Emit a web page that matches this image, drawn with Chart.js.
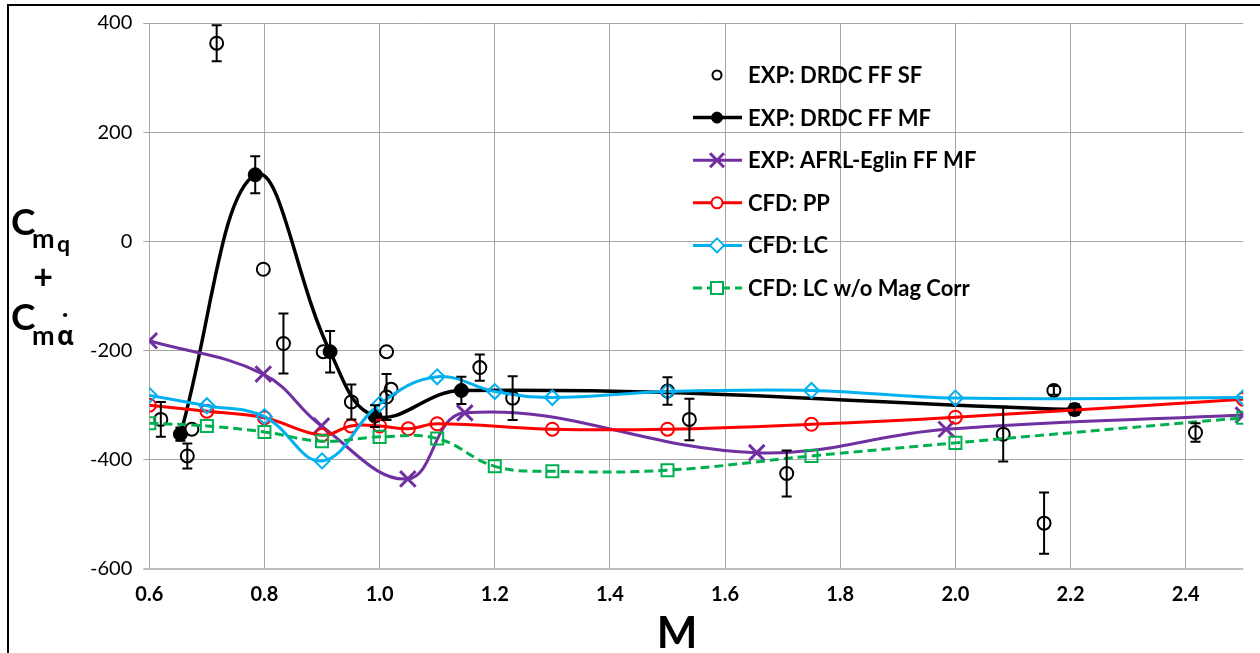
<!DOCTYPE html>
<html>
<head>
<meta charset="utf-8">
<script src="https://cdn.jsdelivr.net/npm/chart.js@4/dist/chart.umd.min.js"></script>
<style>
body { margin: 0; background: #fff; }
#wrap { width: 1260px; height: 653px; }
</style>
</head>
<body>
<div id="wrap"><canvas id="chart" width="1260" height="653"></canvas></div>
<script>
// EXP: DRDC FF SF (open circles, no line)
var sfMach  = [0.62, 0.666, 0.674, 0.717, 0.798, 0.833, 0.902, 0.951, 1.012, 1.02, 1.012, 1.174, 1.231, 1.5, 1.538, 1.707, 2.083, 2.154, 2.171, 2.417];
var sfValue = [-326, -393, -344, 363, -51, -187, -202, -294, -202, -271, -285, -231, -287, -274, -326, -425, -353, -516, -273, -350];
var sfError = [32, 23, 0, 33, 0, 55, 0, 32, 0, 0, 42, 24, 40, 25, 38, 42, 50, 56, 8, 17];

// EXP: DRDC FF MF
var mfMach  = [0.654, 0.784, 0.914, 0.992, 1.142, 2.207];
var mfValue = [-353, 122, -202, -320, -273, -308];
var mfError = [12, 34, 38, 20, 25, 10];

// EXP: AFRL-Eglin FF MF
var afrlMach  = [0.6, 0.798, 0.899, 1.049, 1.148, 1.655, 1.984, 2.5];
var afrlValue = [-182, -243, -338, -435, -314, -387, -344, -318];

// CFD: PP
var ppMach  = [0.6, 0.7, 0.8, 0.9, 0.95, 1.0, 1.05, 1.1, 1.3, 1.5, 1.75, 2.0, 2.5];
var ppValue = [-300, -311, -323, -355, -338, -338, -343, -334, -344, -344, -335, -322, -289];

// CFD: LC
var lcMach  = [0.6, 0.7, 0.8, 0.9, 1.0, 1.1, 1.2, 1.3, 1.5, 1.75, 2.0, 2.5];
var lcValue = [-282, -301, -321, -402, -298, -248, -275, -286, -275, -273, -287, -286];

// CFD: LC w/o Mag Corr
var lcnmMach  = [0.6, 0.7, 0.8, 0.9, 1.0, 1.1, 1.2, 1.3, 1.5, 1.75, 2.0, 2.5];
var lcnmValue = [-333, -338, -349, -366, -358, -361, -412, -421, -419, -393, -369, -323];

var machTicks = [0.6, 0.8, 1.0, 1.2, 1.4, 1.6, 1.8, 2.0, 2.2, 2.4];

function pts(xs, ys) {
    return xs.map(function (x, i) { return { x: x, y: ys[i] }; });
}

// legend marker sizes
var legendSize = { circle: 5.5, rect: 6, rectRot: 7, crossRot: 7 };

function drawMarker(ctx, style, x, y, r) {
    ctx.beginPath();
    if (style === 'circle') {
        ctx.arc(x, y, r, 0, Math.PI * 2);
    } else if (style === 'rect') {
        ctx.rect(x - r, y - r, 2 * r, 2 * r);
    } else if (style === 'rectRot') {
        ctx.moveTo(x, y - r); ctx.lineTo(x + r, y); ctx.lineTo(x, y + r); ctx.lineTo(x - r, y); ctx.closePath();
    } else if (style === 'crossRot') {
        ctx.moveTo(x - r, y - r); ctx.lineTo(x + r, y + r);
        ctx.moveTo(x + r, y - r); ctx.lineTo(x - r, y + r);
    }
}

var errorBars = {
    id: 'errorBars',
    afterDatasetsDraw: function (chart) {
        var ctx = chart.ctx, xs = chart.scales.x, ys = chart.scales.y;
        ctx.save();
        ctx.strokeStyle = '#000';
        ctx.lineWidth = 2;
        chart.data.datasets.forEach(function (ds) {
            if (!ds.errors) return;
            ds.data.forEach(function (p, j) {
                var e = ds.errors[j];
                if (!e) return;
                var px = xs.getPixelForValue(p.x);
                var top = ys.getPixelForValue(p.y + e);
                var bot = ys.getPixelForValue(p.y - e);
                ctx.beginPath();
                ctx.moveTo(px, top); ctx.lineTo(px, bot);
                ctx.moveTo(px - 5, top); ctx.lineTo(px + 5, top);
                ctx.moveTo(px - 5, bot); ctx.lineTo(px + 5, bot);
                ctx.stroke();
            });
        });
        ctx.restore();
    }
};

var sideLegend = {
    id: 'sideLegend',
    afterDraw: function (chart) {
        var ctx = chart.ctx;
        ctx.save();
        chart.data.datasets.forEach(function (ds, i) {
            var y = 75 + i * 42.6;
            if (ds.showLine !== false) {
                ctx.strokeStyle = ds.borderColor;
                ctx.lineWidth = ds.borderWidth;
                ctx.setLineDash(ds.borderDash || []);
                ctx.beginPath();
                ctx.moveTo(693, y); ctx.lineTo(742, y);
                ctx.stroke();
                ctx.setLineDash([]);
            }
            ctx.strokeStyle = ds.borderColor;
            ctx.lineWidth = ds.pointBorderWidth;
            var r = ds.showLine === false ? 4.5 : legendSize[ds.pointStyle];
            drawMarker(ctx, ds.pointStyle, 717, y, r);
            if (ds.pointStyle !== 'crossRot') {
                ctx.fillStyle = ds.pointBackgroundColor === '#000' ? '#000' : '#fff';
                ctx.fill();
            }
            ctx.stroke();
            ctx.fillStyle = '#000';
            ctx.font = 'bold 22px Lato';
            ctx.textBaseline = 'middle';
            ctx.textAlign = 'left';
            ctx.fillText(ds.label, 748, y + 1);
        });
        ctx.restore();
    }
};

var titles = {
    id: 'titles',
    beforeDraw: function (chart) {
        var ctx = chart.ctx;
        ctx.save();
        ctx.fillStyle = '#000';
        ctx.fillRect(7, 4, 2, 649);
        ctx.fillRect(7, 4, 1253, 2);
        ctx.restore();
    },
    afterDraw: function (chart) {
        var ctx = chart.ctx;
        ctx.save();
        ctx.fillStyle = '#000';
        ctx.textAlign = 'left';
        ctx.textBaseline = 'alphabetic';
        // y title: C_mq + C_m(alpha dot)
        ctx.font = 'bold 37px Lato';
        ctx.fillText('C', 11, 235);
        ctx.fillText('C', 11, 330);
        ctx.font = 'bold 27px Lato';
        ctx.fillText('m', 32, 248);
        ctx.fillText('m', 32, 345);
        ctx.font = 'bold 23px Lato';
        ctx.fillText('q', 57, 252);
        ctx.font = 'bold 26px "Open Sans", "DejaVu Sans"';
        ctx.fillText('\u03b1', 57, 345);
        ctx.fillText('\u02d9', 62, 334);
        ctx.font = 'bold 34px Lato';
        ctx.textAlign = 'center';
        ctx.fillText('+', 43, 289);
        // x title
        ctx.font = 'bold 43px Lato';
        ctx.fillText('M', 677, 648);
        ctx.restore();
    }
};

var ctx = document.getElementById('chart').getContext('2d');
var chart = new Chart(ctx, {
    type: 'line',
    data: {
        datasets: [{
            label: 'EXP: DRDC FF SF',
            data: pts(sfMach, sfValue),
            errors: sfError,
            showLine: false,
            borderColor: '#000',
            pointStyle: 'circle',
            pointRadius: 6.5,
            pointBorderWidth: 2,
            pointBackgroundColor: 'rgba(0,0,0,0)',
            order: 6
        },
        {
            label: 'EXP: DRDC FF MF',
            data: pts(mfMach, mfValue),
            errors: mfError,
            borderColor: '#000',
            borderWidth: 3.5,
            tension: 0.4,
            pointStyle: 'circle',
            pointRadius: 7,
            pointBorderWidth: 1,
            pointBackgroundColor: '#000',
            order: 5
        },
        {
            label: 'EXP: AFRL-Eglin FF MF',
            data: pts(afrlMach, afrlValue),
            borderColor: '#7030a0',
            borderWidth: 3,
            tension: 0.4,
            pointStyle: 'crossRot',
            pointRadius: 11,
            pointBorderWidth: 3,
            pointBackgroundColor: 'rgba(0,0,0,0)',
            order: 4
        },
        {
            label: 'CFD: PP',
            data: pts(ppMach, ppValue),
            borderColor: '#ff0000',
            borderWidth: 3,
            tension: 0.4,
            pointStyle: 'circle',
            pointRadius: 6.5,
            pointBorderWidth: 2,
            pointBackgroundColor: 'rgba(0,0,0,0)',
            order: 3
        },
        {
            label: 'CFD: LC',
            data: pts(lcMach, lcValue),
            borderColor: '#00b0f0',
            borderWidth: 3,
            tension: 0.4,
            pointStyle: 'rectRot',
            pointRadius: 7.5,
            pointBorderWidth: 2,
            pointBackgroundColor: 'rgba(0,0,0,0)',
            order: 2
        },
        {
            label: 'CFD: LC w/o Mag Corr',
            data: pts(lcnmMach, lcnmValue),
            borderColor: '#00b050',
            borderWidth: 3,
            borderDash: [9, 5],
            tension: 0.4,
            pointStyle: 'rect',
            pointRadius: 8.5,
            pointBorderWidth: 2,
            pointBackgroundColor: 'rgba(0,0,0,0)',
            order: 1
        }]
    },
    options: {
        responsive: false,
        animation: false,
        layout: { padding: { left: 0, top: 23, right: 16.7, bottom: 0 } },
        plugins: {
            legend: { display: false },
            tooltip: { enabled: false }
        },
        scales: {
            x: {
                type: 'linear',
                min: 0.6,
                max: 2.5,
                afterFit: function (scale) { scale.height = 84; },
                afterBuildTicks: function (scale) {
                    scale.ticks = machTicks.map(function (v) { return { value: v }; });
                },
                grid: { color: '#a6a6a6', lineWidth: 1, drawTicks: false },
                border: { display: false },
                ticks: {
                    padding: 14,
                    color: '#000',
                    font: { family: 'Lato', size: 20, weight: 'bold' },
                    maxRotation: 0,
                    callback: function (v) { return v.toFixed(1); }
                }
            },
            y: {
                min: -600,
                max: 400,
                afterFit: function (scale) { scale.width = 149.3; },
                grid: {
                    color: function (c) { return c.tick && c.tick.value === -600 ? '#bfbfbf' : '#a6a6a6'; },
                    lineWidth: function (c) { return c.tick && c.tick.value === -600 ? 2 : 1; },
                    tickLength: 6
                },
                border: { display: false },
                ticks: {
                    stepSize: 200,
                    padding: 11,
                    color: '#000',
                    font: { family: 'Lato', size: 20 }
                }
            }
        }
    },
    plugins: [titles, errorBars, sideLegend]
});
</script>
</body>
</html>
